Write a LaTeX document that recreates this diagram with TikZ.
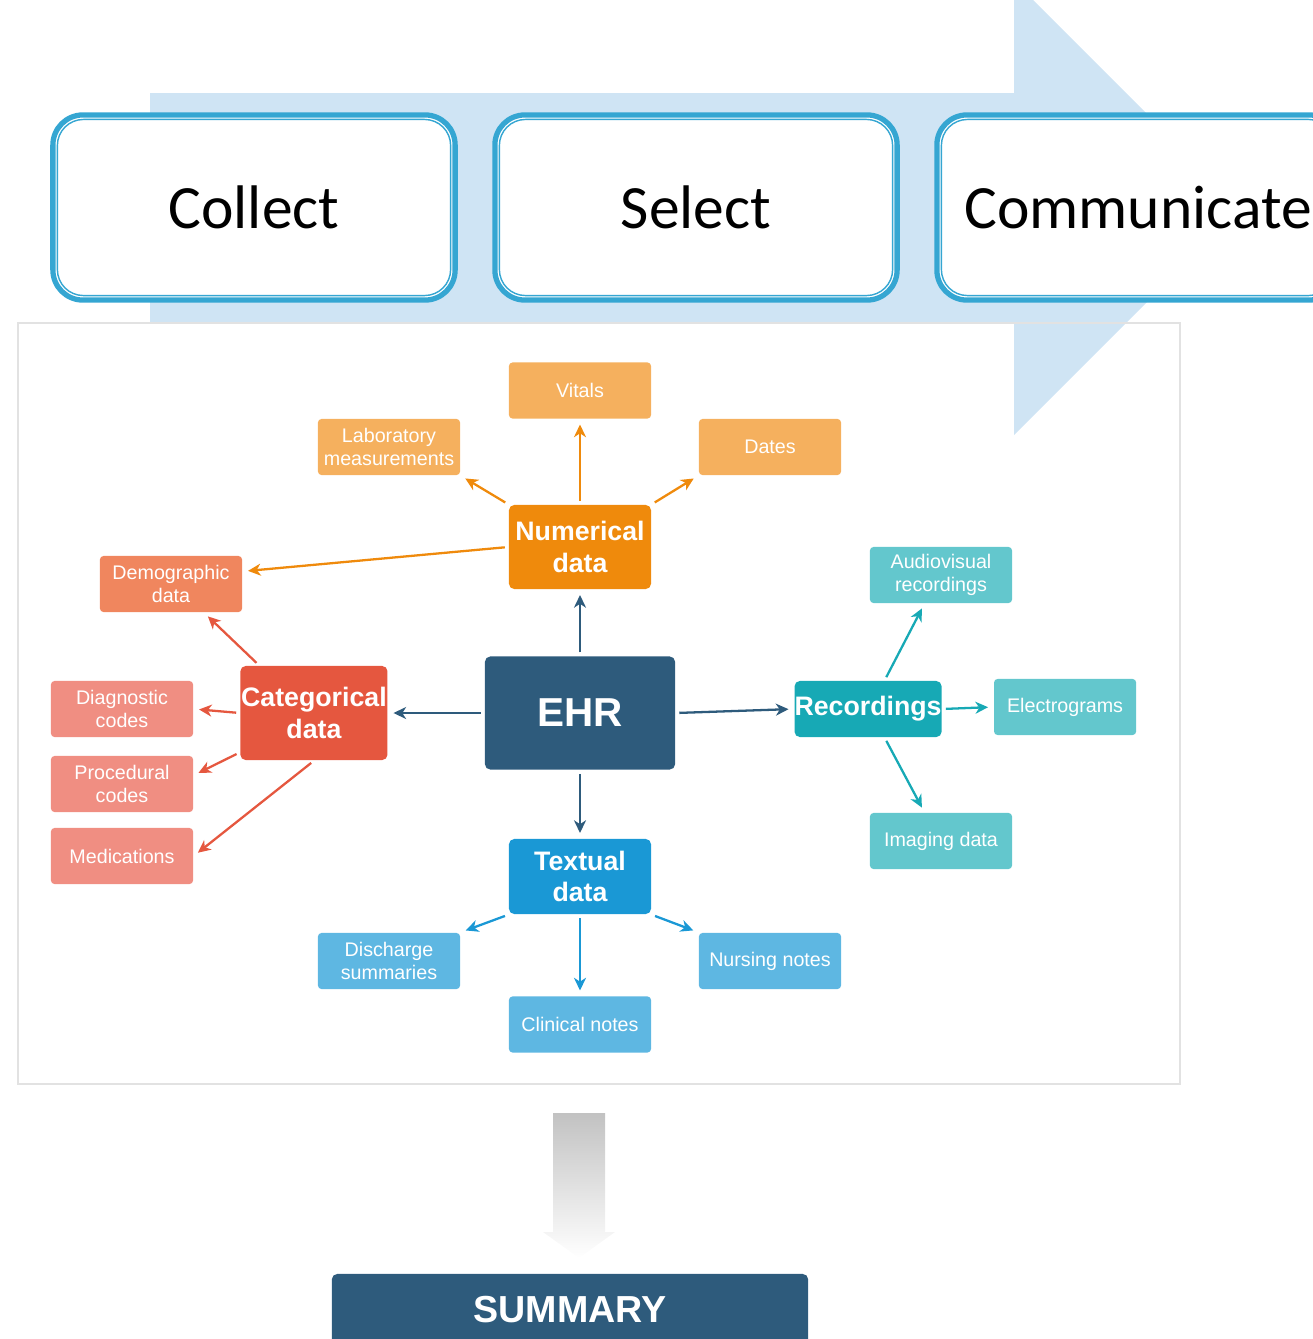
\documentclass[tikz,border=0pt]{standalone}
\usepackage{fontspec}
\setmainfont{Liberation Sans}
\newfontfamily\stagefont{Carlito}
\usepackage{tikz}
\usetikzlibrary{positioning,arrows.meta}
\definecolor{ehrblue}{HTML}{2E5B7C}
\definecolor{flowblue}{HTML}{CFE4F4}
\definecolor{stageblue}{HTML}{35A6D2}
\definecolor{framegray}{HTML}{E2E2E2}
\definecolor{numorange}{HTML}{EF8A0C}
\definecolor{numlight}{HTML}{F5B05E}
\definecolor{catred}{HTML}{E5573F}
\definecolor{catlight}{HTML}{F08E82}
\definecolor{demolight}{HTML}{F0865E}
\definecolor{recteal}{HTML}{17A9B5}
\definecolor{reclight}{HTML}{63C7CD}
\definecolor{txtblue}{HTML}{1A98D5}
\definecolor{txtlight}{HTML}{5EB7E2}
\tikzset{
    stage/.style={rectangle,rounded corners=0.3cm,draw=stageblue,line width=1.5pt,fill=white,minimum width=4.02cm,minimum height=1.85cm,outer sep=0pt,font=\stagefont\fontsize{17.5}{20}\selectfont},
    stageinner/.style={draw=stageblue,line width=0.4pt,rounded corners=0.26cm},
    hub/.style={rectangle,rounded corners=1.5pt,text=white,align=center,inner sep=0pt,font=\bfseries\fontsize{7.6}{8.9}\selectfont},
    leaf/.style={rectangle,rounded corners=1pt,text=white,align=center,inner sep=0pt,minimum width=1.42cm,minimum height=0.56cm,font=\fontsize{5.6}{6.6}\selectfont},
    link/.style={->,line width=0.65pt,shorten >=1.5pt,shorten <=1pt},
}

\begin{document}
\begin{tikzpicture}[x=0.01cm,y=0.01cm,>={Stealth[length=3.6pt,width=3.4pt,inset=1.1pt]}]
\useasboundingbox (0,0) rectangle (1313,-1339);
% process arrow behind the stages
\fill[flowblue] (150,-93) -- (1014,-93) -- (1014,19) -- (1241,-208) -- (1014,-435) -- (1014,-323) -- (150,-323) -- cycle;
\node[stage] (collect) at (254,-207.5) {Collect};
\node[stage] (select) at (696,-207.5) {Select};
\node[stage] (communicate) at (1138,-207.5) {Communicate};
\foreach \s in {collect,select,communicate}
    \draw[stageinner] ([shift={(4.5,4.5)}]\s.south west) rectangle ([shift={(-4.5,-4.5)}]\s.north east);
\draw[framegray,line width=0.6pt] (18,-323) rectangle (1180,-1084);

% hubs
\node[hub,fill=ehrblue,minimum width=1.90cm,minimum height=1.13cm,font=\bfseries\fontsize{11.5}{13}\selectfont] (ehr) at (580,-713) {EHR};
\node[hub,fill=numorange,minimum width=1.42cm,minimum height=0.84cm] (num) [above=0.66cm of ehr] {Numerical\\data};
\node[hub,fill=catred,minimum width=1.47cm,minimum height=0.94cm] (cat) [left=0.96cm of ehr] {Categorical\\data};
\node[hub,fill=recteal,minimum width=1.47cm,minimum height=0.56cm] (rec) [right=1.18cm of ehr,yshift=0.04cm] {Recordings};
\node[hub,fill=txtblue,minimum width=1.42cm,minimum height=0.75cm] (txt) [below=0.68cm of ehr] {Textual\\data};

% leaves
\node[leaf,fill=numlight] (vit) [above=0.85cm of num] {Vitals};
\node[leaf,fill=numlight] (lab) at (389,-447) {Laboratory\\measurements};
\node[leaf,fill=numlight] (dates) at (770,-447) {Dates};
\node[leaf,fill=demolight] (demo) at (171,-584) {Demographic\\data};
\node[leaf,fill=catlight] (diag) at (122,-709) {Diagnostic\\codes};
\node[leaf,fill=catlight] (proc) at (122,-784) {Procedural\\codes};
\node[leaf,fill=catlight] (med) at (122,-856) {Medications};
\node[leaf,fill=reclight] (aud) at (941,-575) {Audiovisual\\recordings};
\node[leaf,fill=reclight] (elec) [right=0.51cm of rec,yshift=0.02cm] {Electrograms};
\node[leaf,fill=reclight] (img) at (941,-841) {Imaging data};
\node[leaf,fill=txtlight] (dis) at (389,-961) {Discharge\\summaries};
\node[leaf,fill=txtlight] (clin) [below=0.81cm of txt] {Clinical notes};
\node[leaf,fill=txtlight] (nurs) at (770,-961) {Nursing notes};

% connectors
\path[link,ehrblue] (ehr.north) edge (num.south) (ehr.west) edge (cat.east)
    (ehr.east) edge (rec.west) (ehr.south) edge (txt.north);
\path[link,numorange] (num.north) edge (vit.south) (num.north west) edge (lab.south east)
    (num.north east) edge (dates.south west) (num.west) edge (demo.10);
\path[link,catred] (cat.139) edge (demo.-41) (cat.west) edge (diag.east)
    (cat.208) edge (proc.7) (cat.south) edge (med.east);
\path[link,recteal] (rec.60) edge (aud.-120) (rec.east) edge (elec.west) (rec.-60) edge (img.120);
\path[link,txtblue] (txt.south west) edge (dis.north east) (txt.south) edge (clin.north)
    (txt.south east) edge (nurs.north west);

% down arrow and summary
\shade[top color=black!24,bottom color=white] (553,-1113) -- (605,-1113) -- (605,-1232) -- (615,-1232) -- (579,-1258) -- (543,-1232) -- (553,-1232) -- cycle;
\node[hub,fill=ehrblue,minimum width=4.76cm,minimum height=0.71cm,font=\bfseries\fontsize{10.7}{12}\selectfont] (summary) at (570,-1309.5) {SUMMARY};
\end{tikzpicture}
\end{document}
